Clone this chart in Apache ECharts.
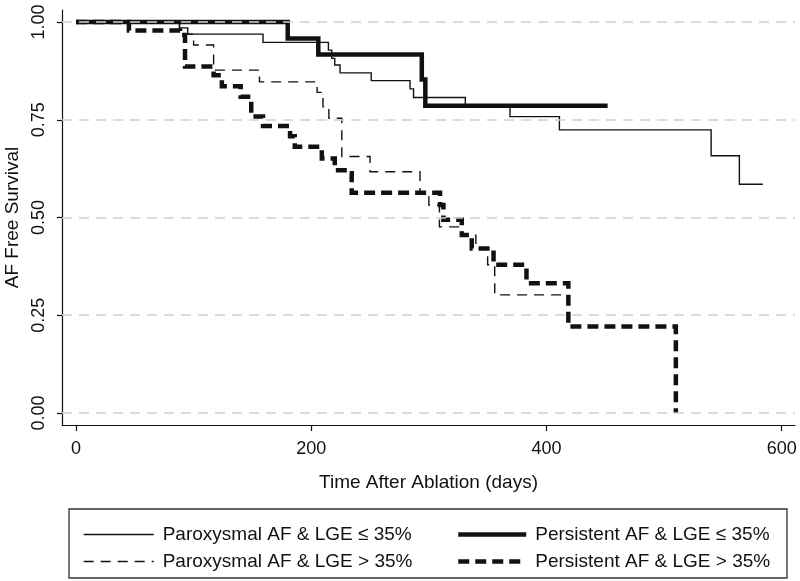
<!DOCTYPE html>
<html>
<head>
<meta charset="utf-8">
<script src="https://cdn.jsdelivr.net/npm/echarts@6/dist/echarts.min.js"></script>
<style>
html,body{margin:0;padding:0;background:#fff;}
#chart{width:800px;height:581px;}
</style>
</head>
<body>
<div id="chart"></div>
<script>
// ---- Data ----
const seriesNames = [
  'Paroxysmal AF & LGE \u2264 35%',
  'Persistent AF & LGE \u2264 35%',
  'Paroxysmal AF & LGE > 35%',
  'Persistent AF & LGE > 35%'
];
// Paroxysmal AF & LGE <= 35%
const parLowDays = [0, 88, 95, 159, 214.6, 217.4, 220, 224.5, 251, 284, 287, 331, 369, 411, 540, 564, 584];
const parLowSurv = [1, 0.985, 0.969, 0.948, 0.928, 0.907, 0.890, 0.870, 0.850, 0.829, 0.807, 0.786, 0.758, 0.724, 0.658, 0.585, 0.585];
// Persistent AF & LGE <= 35%
const perLowDays = [0, 180, 206, 294, 297, 452];
const perLowSurv = [1, 0.958, 0.917, 0.853, 0.786, 0.786];
// Paroxysmal AF & LGE > 35%
const parHighDays = [0, 88, 100, 117, 156, 205, 210, 215, 226, 250, 292.5, 300, 309, 328, 340, 350, 356, 418];
const parHighSurv = [1, 0.969, 0.941, 0.877, 0.847, 0.820, 0.783, 0.754, 0.656, 0.617, 0.563, 0.532, 0.476, 0.455, 0.421, 0.379, 0.302, 0.302];
// Persistent AF & LGE > 35%
const perHighDays = [0, 45, 88.5, 92.7, 117, 124, 140, 149, 159, 182, 186, 209, 220, 231, 234.4, 309.5, 312.4, 328, 336.5, 355, 383, 418.6, 510];
const perHighSurv = [1, 0.978, 0.967, 0.886, 0.864, 0.836, 0.809, 0.758, 0.734, 0.708, 0.681, 0.651, 0.621, 0.613, 0.563, 0.532, 0.494, 0.455, 0.421, 0.379, 0.332, 0.221, 0];

const xTicks = [0, 200, 400, 600];
const yTicks = [0, 0.25, 0.5, 0.75, 1];
const xTitle = 'Time After Ablation (days)';
const yTitle = 'AF Free Survival';

function pairs(d, s) { return d.map((v, i) => [v, s[i]]); }

const FONT = '"Liberation Sans", Arial, Helvetica, sans-serif';
const BLACK = '#111';
const THIN = 1.4, THICK = 4.5;
const THIN_DASH = [10, 7], THICK_DASH = [11, 6];

const chart = echarts.init(document.getElementById('chart'), null, {renderer: 'canvas'});

function kmSeries(name, d, s, width, dash, z) {
  return {
    name: name,
    type: 'line',
    step: 'end',
    data: pairs(d, s),
    symbol: 'none',
    showSymbol: false,
    z: z,
    animation: false,
    lineStyle: { color: BLACK, width: width, type: dash, cap: 'butt', join: 'miter' },
    itemStyle: { color: BLACK }
  };
}

function legendItem(name, width, dash) {
  return {
    name: name,
    itemStyle: { opacity: 0 },
    lineStyle: { color: BLACK, width: width, type: dash, opacity: 1 }
  };
}

const legendText = { fontFamily: FONT, fontSize: 19, color: BLACK, padding: [0, 0, 0, 4] };

const option = {
  backgroundColor: '#fff',
  animation: false,
  grid: { left: 62, right: 5, top: 10, bottom: 156, containLabel: false, outerBoundsMode: 'none' },
  xAxis: {
    type: 'value',
    min: -11.9,
    max: 611.3,
    name: xTitle,
    nameLocation: 'middle',
    nameGap: 48,
    nameTextStyle: { fontFamily: FONT, fontSize: 19, color: BLACK },
    axisLine: { show: true, onZero: false, lineStyle: { color: BLACK, width: 1.2 } },
    axisTick: { show: true, customValues: xTicks, length: 6, lineStyle: { color: BLACK, width: 1.2 } },
    axisLabel: { show: true, customValues: xTicks, margin: 15, fontFamily: FONT, fontSize: 18, color: BLACK },
    splitLine: { show: false }
  },
  yAxis: {
    type: 'value',
    min: -0.0307,
    max: 1.0307,
    name: yTitle,
    nameLocation: 'middle',
    nameRotate: 90,
    nameGap: 39,
    nameTextStyle: { fontFamily: FONT, fontSize: 19, color: BLACK },
    axisLine: { show: true, onZero: false, lineStyle: { color: BLACK, width: 1.2 } },
    axisTick: { show: true, customValues: yTicks, length: 5, lineStyle: { color: BLACK, width: 1.2 } },
    axisLabel: {
      show: true, customValues: yTicks, rotate: 90, margin: 14,
      fontFamily: FONT, fontSize: 18, color: BLACK,
      formatter: v => Number(v).toFixed(2)
    },
    splitLine: { show: false }
  },
  legend: [
    {
      data: [legendItem(seriesNames[0], THIN, 'solid'), legendItem(seriesNames[2], THIN, THIN_DASH)],
      orient: 'vertical',
      left: 78, top: 520,
      itemWidth: 70, itemHeight: 14, itemGap: 8,
      textStyle: legendText,
      selectedMode: false
    },
    {
      data: [legendItem(seriesNames[1], THICK, 'solid'), legendItem(seriesNames[3], THICK, THICK_DASH)],
      orient: 'vertical',
      left: 451, top: 520,
      itemWidth: 68, itemHeight: 14, itemGap: 8,
      textStyle: legendText,
      selectedMode: false
    }
  ],
  graphic: [
    {
      type: 'rect',
      shape: { x: 69, y: 509, width: 718, height: 69 },
      style: { fill: 'none', stroke: '#333', lineWidth: 1.3 },
      silent: true
    }
  ],
  series: [
    {
      name: 'grid',
      type: 'line',
      data: [],
      silent: true,
      z: 1,
      markLine: {
        silent: true,
        symbol: ['none', 'none'],
        label: { show: false },
        animation: false,
        lineStyle: { color: '#cfcfcf', width: 1.5, type: [10, 7] },
        data: yTicks.map(v => ({ yAxis: v }))
      }
    },
    kmSeries(seriesNames[0], parLowDays, parLowSurv, THIN, 'solid', 3),
    kmSeries(seriesNames[1], perLowDays, perLowSurv, THICK, 'solid', 4),
    kmSeries(seriesNames[2], parHighDays, parHighSurv, THIN, THIN_DASH, 3),
    kmSeries(seriesNames[3], perHighDays, perHighSurv, THICK, THICK_DASH, 4)
  ]
};
chart.setOption(option);
</script>
</body>
</html>
